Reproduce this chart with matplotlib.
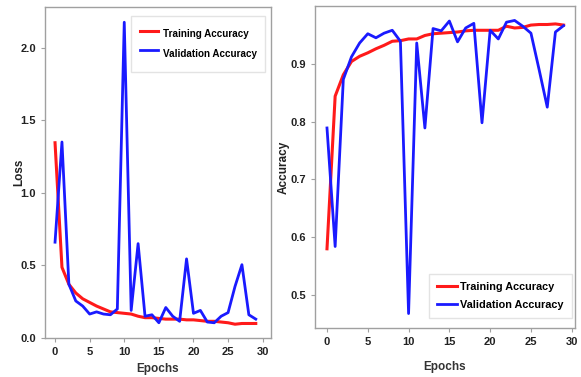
import matplotlib
matplotlib.use("Agg")
import matplotlib.pyplot as plt
import numpy as np

plt.rcParams["font.family"] = ["Liberation Sans", "DejaVu Sans"]

epochs = list(range(30))

# loss curves
train_loss = [1.345, 0.487, 0.37, 0.31, 0.27, 0.245, 0.22, 0.20, 0.18, 0.175,
              0.17, 0.165, 0.15, 0.14, 0.14, 0.135, 0.13, 0.13, 0.13, 0.125,
              0.125, 0.12, 0.115, 0.115, 0.11, 0.105, 0.095, 0.10, 0.10, 0.10]
val_loss = [0.66, 1.35, 0.37, 0.255, 0.22, 0.165, 0.18, 0.165, 0.16, 0.20,
            2.175, 0.19, 0.65, 0.15, 0.16, 0.105, 0.21, 0.15, 0.115, 0.545,
            0.17, 0.19, 0.11, 0.105, 0.15, 0.175, 0.355, 0.505, 0.16, 0.13]

# accuracy curves
train_acc = [0.58, 0.844, 0.881, 0.904, 0.913, 0.919, 0.926, 0.932, 0.939, 0.940,
             0.943, 0.943, 0.949, 0.952, 0.953, 0.954, 0.955, 0.957, 0.958, 0.958,
             0.958, 0.958, 0.965, 0.962, 0.963, 0.967, 0.968, 0.968, 0.969, 0.967]
val_acc = [0.789, 0.584, 0.873, 0.912, 0.936, 0.952, 0.945, 0.953, 0.958, 0.939,
           0.468, 0.936, 0.789, 0.961, 0.957, 0.974, 0.938, 0.962, 0.970, 0.798,
           0.958, 0.943, 0.972, 0.975, 0.965, 0.953, 0.89, 0.825, 0.955, 0.966]

W, H = 581, 377
fig = plt.figure(figsize=(W / 100, H / 100), dpi=100)
fig.patch.set_facecolor("white")

ax1 = fig.add_axes([45 / W, 1 - 338 / H, 226 / W, 331 / H])
ax2 = fig.add_axes([315 / W, 1 - 328 / H, 260 / W, 322 / H])

ax1.plot(epochs, train_loss, color="#ff1a1a", lw=2.2, label="Training Accuracy")
ax1.plot(epochs, val_loss, color="#1a1aff", lw=2.0, label="Validation Accuracy")
ax1.set_xticks([0, 5, 10, 15, 20, 25, 30])
ax1.set_yticks([0.0, 0.5, 1.0, 1.5, 2.0])
ax1.set_xlim(-1.45, 31.2)
ax1.set_ylim(0.0, 2.28)
ax1.set_xlabel("Epochs", fontsize=8.5, fontweight="bold", color="#333333")
ax1.set_ylabel("Loss", fontsize=8.5, fontweight="bold", color="#222222")
ax1.yaxis.set_label_coords(-20 / 226, 0.5)
leg1 = ax1.legend(loc="upper right", prop={"size": 7.1, "weight": "bold"},
                  handlelength=1.8, handleheight=2.7, handletextpad=0.5,
                  fancybox=False, borderpad=0.85, labelspacing=0.0,
                  borderaxespad=0, bbox_to_anchor=(0.973, 0.973))
leg1.get_frame().set_edgecolor("#dddddd")

ax2.plot(epochs, train_acc, color="#ff1a1a", lw=2.2, label="Training Accuracy")
ax2.plot(epochs, val_acc, color="#1a1aff", lw=2.0, label="Validation Accuracy")
ax2.set_xticks([0, 5, 10, 15, 20, 25, 30])
ax2.set_yticks([0.5, 0.6, 0.7, 0.8, 0.9])
ax2.set_xlim(-1.47, 30.4)
ax2.set_ylim(0.443, 1.0)
ax2.set_xlabel("Epochs", fontsize=8.5, fontweight="bold", color="#333333", labelpad=10)
ax2.set_ylabel("Accuracy", fontsize=8.5, fontweight="bold", color="#222222")
ax2.yaxis.set_label_coords(-25 / 260, 0.5)
leg2 = ax2.legend(loc="lower right", prop={"size": 7.8, "weight": "bold"},
                  handlelength=1.85, handletextpad=0.3,
                  fancybox=False, borderpad=0.75, labelspacing=0.75,
                  borderaxespad=0, bbox_to_anchor=(0.988, 0.031))
leg2.get_frame().set_edgecolor("#dddddd")

for ax in (ax1, ax2):
    for s in ax.spines.values():
        s.set_color("#a0a0a0")
        s.set_linewidth(1.0)
    ax.tick_params(colors="#a0a0a0", labelcolor="#222222", length=3, width=0.8,
                   labelsize=8)
    for lab in ax.get_xticklabels() + ax.get_yticklabels():
        lab.set_fontweight("bold")

fig.savefig("out.png", dpi=100)
